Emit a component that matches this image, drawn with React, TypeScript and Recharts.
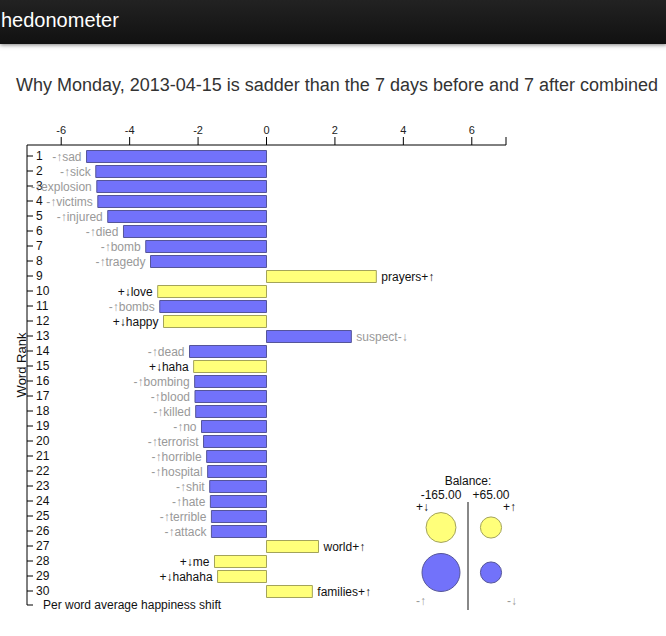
import React from "react";
import {
  BarChart,
  Bar,
  XAxis,
  YAxis,
  Cell,
  LabelList,
  ScatterChart,
  Scatter,
  ZAxis,
} from "recharts";

// words ranked by contribution to the happiness shift
const words = [
  "sad", "sick", "explosion", "victims", "injured", "died", "bomb", "tragedy",
  "prayers", "love", "bombs", "happy", "suspect", "dead", "haha", "bombing",
  "blood", "killed", "no", "terrorist", "horrible", "hospital", "shit", "hate",
  "terrible", "attack", "world", "me", "hahaha", "families",
];

const shifts = [
  -5.26, -4.99, -4.96, -4.93, -4.64, -4.18, -3.53, -3.39,
  3.21, -3.18, -3.12, -3.01, 2.48, -2.25, -2.13, -2.1,
  -2.09, -2.07, -1.9, -1.84, -1.75, -1.72, -1.66, -1.64,
  -1.61, -1.61, 1.52, -1.52, -1.43, 1.34,
];

const kinds = [
  "-↑", "-↑", "-↑", "-↑", "-↑", "-↑", "-↑", "-↑",
  "+↑", "+↓", "-↑", "+↓", "-↓", "-↑", "+↓", "-↑",
  "-↑", "-↑", "-↑", "-↑", "-↑", "-↑", "-↑", "-↑",
  "-↑", "-↑", "+↑", "+↓", "+↓", "+↑",
];

const xTicks = [-6, -4, -2, 0, 2, 4, 6, 7];

// balance circles
const balanceSides = ["left", "left", "right", "right"];
const balanceRows = ["plus", "minus", "plus", "minus"];
const balanceSizes = [62, 100, 31, 31];
const balanceTotals = ["-165.00", "+65.00"];

const BLUE = "#7272fa";
const BLUE_EDGE = "#555599";
const YELLOW = "#ffff7a";
const YELLOW_EDGE = "#a3a35a";
const FONT = "'Liberation Sans', Arial, sans-serif";

const rows = words.map((w, i) => ({
  rank: String(i + 1),
  word: w,
  shift: shifts[i],
  kind: kinds[i],
}));

const balanceData = balanceSizes.map((z, i) => ({
  side: balanceSides[i],
  row: balanceRows[i],
  z,
}));

function RankTick(props: any) {
  const { x, y, payload } = props;
  return (
    <g>
      <line x1={x} x2={x + 6} y1={y} y2={y} stroke="#000" />
      <text x={x + 9} y={y} dy="0.35em" fontSize={12} fill="#111">
        {payload.value}
      </text>
    </g>
  );
}

function WordLabel(props: any) {
  const vb = props.viewBox ?? props;
  const { x, y, width, height } = vb;
  const i = props.index;
  const v = shifts[i];
  const kind = kinds[i];
  const left = Math.min(x, x + width);
  const right = Math.max(x, x + width);
  const text = v < 0 ? kind + words[i] : words[i] + kind;
  return (
    <text
      x={v < 0 ? left - 5 : right + 5}
      y={y + height / 2}
      dy="0.35em"
      textAnchor={v < 0 ? "end" : "start"}
      fontSize={12}
      fill={kind.startsWith("-") ? "#999" : "#111"}
    >
      {text}
    </text>
  );
}

export default function App() {
  return (
    <div
      style={{
        position: "absolute",
        left: 0,
        top: 0,
        width: 666,
        height: 636,
        background: "#fff",
        fontFamily: FONT,
        overflow: "hidden",
      }}
    >
      <div
        style={{
          position: "absolute",
          left: 0,
          top: 0,
          width: 666,
          height: 44,
          background: "linear-gradient(#222, #111)",
          boxShadow: "0 1px 4px rgba(0,0,0,0.5)",
          color: "#fff",
          fontSize: 20,
          lineHeight: "40px",
          paddingLeft: 1,
          zIndex: 2,
        }}
      >
        hedonometer
      </div>
      <div
        style={{
          position: "absolute",
          left: 16,
          top: 75,
          fontSize: 18,
          color: "#333",
          whiteSpace: "nowrap",
        }}
      >
        Why Monday, 2013-04-15 is sadder than the 7 days before and 7 after combined
      </div>

      <div style={{ position: "absolute", left: 0, top: 0 }}>
        <BarChart
          width={666}
          height={636}
          data={rows}
          layout="vertical"
          margin={{ top: 115, right: 160, bottom: 31, left: 0 }}
          style={{ fontFamily: FONT }}
        >
          <XAxis
            type="number"
            orientation="top"
            domain={[-7, 7]}
            ticks={xTicks}
            height={30}
            tickSize={8}
            tickMargin={3}
            tickFormatter={(v: number) => (v === 7 ? "" : String(v))}
            tick={{ fontSize: 11, fill: "#222" }}
            axisLine={{ stroke: "#000" }}
            tickLine={{ stroke: "#000" }}
          />
          <YAxis
            type="category"
            dataKey="rank"
            width={27}
            interval={0}
            padding={{ top: 3.5, bottom: 6.5 }}
            tickSize={0}
            tickMargin={0}
            tickLine={false}
            axisLine={{ stroke: "#000" }}
            tick={<RankTick />}
          />
          <Bar dataKey="shift" barSize={12} isAnimationActive={false}>
            {rows.map((r, i) => (
              <Cell
                key={i}
                fill={r.kind.startsWith("+") ? YELLOW : BLUE}
                stroke={r.kind.startsWith("+") ? YELLOW_EDGE : BLUE_EDGE}
              />
            ))}
            <LabelList dataKey="word" content={<WordLabel />} />
          </Bar>
        </BarChart>
      </div>

      <svg
        width={666}
        height={636}
        style={{ position: "absolute", left: 0, top: 0, pointerEvents: "none" }}
      >
        <line x1={27} x2={33} y1={605} y2={605} stroke="#000" />
        <text x={43} y={605} dy="0.35em" fontSize={12} fill="#111">
          Per word average happiness shift
        </text>
        <text
          x={21}
          y={365}
          fontSize={13}
          fill="#111"
          textAnchor="middle"
          transform="rotate(-90 21 365)"
          dy="0.35em"
        >
          Word Rank
        </text>
        <text x={468} y={481} fontSize={12} fill="#111" textAnchor="middle" dy="0.35em">
          Balance:
        </text>
        <text x={441} y={495} fontSize={12} fill="#111" textAnchor="middle" dy="0.35em">
          {balanceTotals[0]}
        </text>
        <text x={491} y={495} fontSize={12} fill="#111" textAnchor="middle" dy="0.35em">
          {balanceTotals[1]}
        </text>
        <line x1={468} x2={468} y1={502} y2={610} stroke="#888" strokeWidth={2} />
        <text x={416} y={507} fontSize={12} fill="#111" dy="0.35em">+↓</text>
        <text x={516} y={507} fontSize={12} fill="#111" dy="0.35em" textAnchor="end">+↑</text>
        <text x={416} y={601} fontSize={12} fill="#999" dy="0.35em">-↑</text>
        <text x={517} y={601} fontSize={12} fill="#999" dy="0.35em" textAnchor="end">-↓</text>
      </svg>

      <div style={{ position: "absolute", left: 416, top: 505 }}>
        <ScatterChart width={100} height={90} margin={{ top: 0, right: 0, bottom: 0, left: 0 }}>
          <XAxis type="category" dataKey="side" hide allowDuplicatedCategory={false} />
          <YAxis type="category" dataKey="row" hide reversed allowDuplicatedCategory={false} />
          <ZAxis type="number" dataKey="z" domain={[0, 100]} range={[0, 1134]} />
          <Scatter data={balanceData} isAnimationActive={false}>
            {balanceData.map((d, i) => (
              <Cell
                key={i}
                fill={d.row === "plus" ? YELLOW : BLUE}
                stroke={d.row === "plus" ? YELLOW_EDGE : BLUE_EDGE}
              />
            ))}
          </Scatter>
        </ScatterChart>
      </div>
    </div>
  );
}
